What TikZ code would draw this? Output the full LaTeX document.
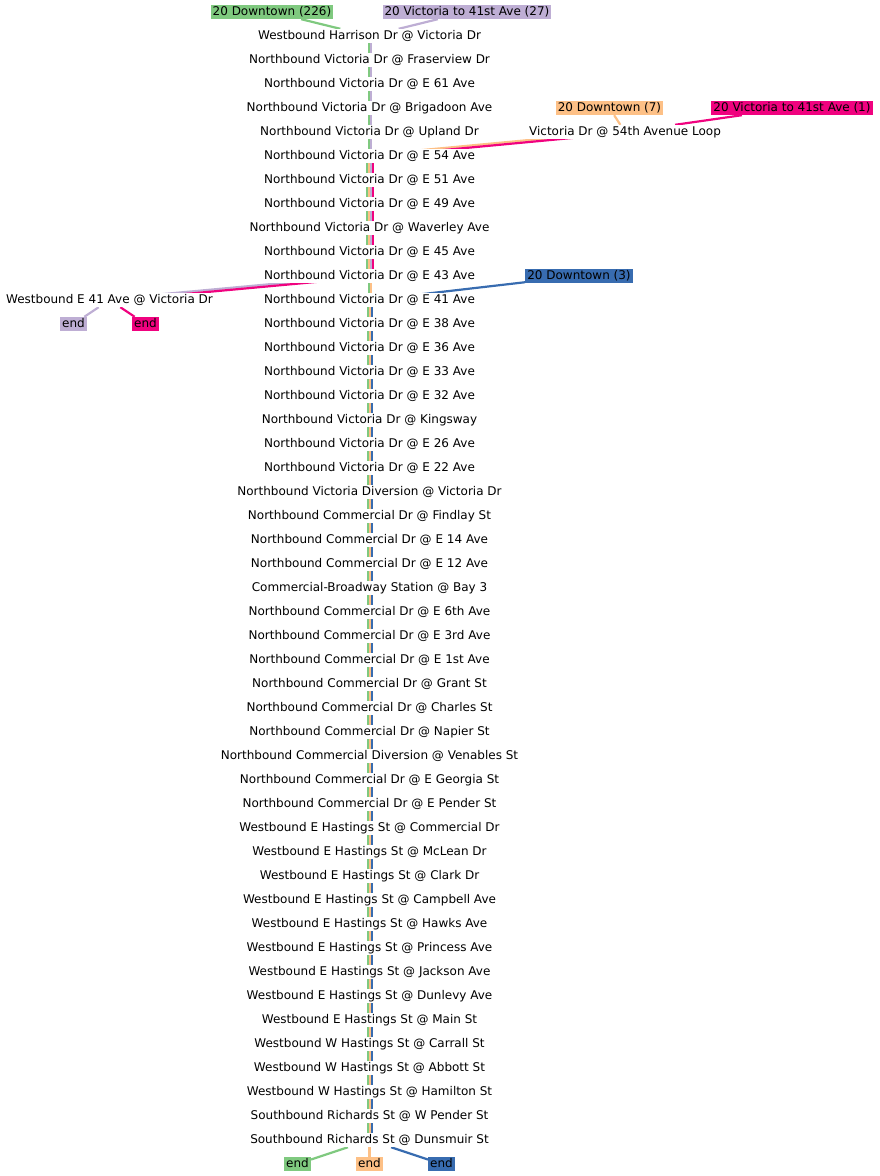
\documentclass[tikz,border=0pt]{standalone}
\usepackage{fontspec}
\setmainfont{DejaVu Sans}
\usetikzlibrary{backgrounds}
\definecolor{rgreen}{RGB}{127,201,127}
\definecolor{rpurple}{RGB}{190,174,212}
\definecolor{rorange}{RGB}{253,192,134}
\definecolor{rmagenta}{RGB}{240,2,127}
\definecolor{rblue}{RGB}{56,108,176}

\begin{document}
\begin{tikzpicture}[
  x=1pt, y=-1pt,
  font=\fontsize{12pt}{14pt}\selectfont,
  stop/.style={fill=white, inner xsep=1pt, inner ysep=1pt,
               text height=9pt, text depth=3pt},
  tag/.style={inner xsep=2pt, inner ysep=1pt,
              text height=9pt, text depth=3pt},
  bar/.style={line width=2pt},
  link/.style={line width=2.2pt},
]
\useasboundingbox (0,0) rectangle (879,1176);

% -------------------------------------------------------------------------
% Trunk: stops of route 20, top to bottom.
% -------------------------------------------------------------------------
\foreach \name [count=\i from 0] in {
  Westbound Harrison Dr @ Victoria Dr,
  Northbound Victoria Dr @ Fraserview Dr,
  Northbound Victoria Dr @ E 61 Ave,
  Northbound Victoria Dr @ Brigadoon Ave,
  Northbound Victoria Dr @ Upland Dr,
  Northbound Victoria Dr @ E 54 Ave,
  Northbound Victoria Dr @ E 51 Ave,
  Northbound Victoria Dr @ E 49 Ave,
  Northbound Victoria Dr @ Waverley Ave,
  Northbound Victoria Dr @ E 45 Ave,
  Northbound Victoria Dr @ E 43 Ave,
  Northbound Victoria Dr @ E 41 Ave,
  Northbound Victoria Dr @ E 38 Ave,
  Northbound Victoria Dr @ E 36 Ave,
  Northbound Victoria Dr @ E 33 Ave,
  Northbound Victoria Dr @ E 32 Ave,
  Northbound Victoria Dr @ Kingsway,
  Northbound Victoria Dr @ E 26 Ave,
  Northbound Victoria Dr @ E 22 Ave,
  Northbound Victoria Diversion @ Victoria Dr,
  Northbound Commercial Dr @ Findlay St,
  Northbound Commercial Dr @ E 14 Ave,
  Northbound Commercial Dr @ E 12 Ave,
  Commercial-Broadway Station @ Bay 3,
  Northbound Commercial Dr @ E 6th Ave,
  Northbound Commercial Dr @ E 3rd Ave,
  Northbound Commercial Dr @ E 1st Ave,
  Northbound Commercial Dr @ Grant St,
  Northbound Commercial Dr @ Charles St,
  Northbound Commercial Dr @ Napier St,
  Northbound Commercial Diversion @ Venables St,
  Northbound Commercial Dr @ E Georgia St,
  Northbound Commercial Dr @ E Pender St,
  Westbound E Hastings St @ Commercial Dr,
  Westbound E Hastings St @ McLean Dr,
  Westbound E Hastings St @ Clark Dr,
  Westbound E Hastings St @ Campbell Ave,
  Westbound E Hastings St @ Hawks Ave,
  Westbound E Hastings St @ Princess Ave,
  Westbound E Hastings St @ Jackson Ave,
  Westbound E Hastings St @ Dunlevy Ave,
  Westbound E Hastings St @ Main St,
  Westbound W Hastings St @ Carrall St,
  Westbound W Hastings St @ Abbott St,
  Westbound W Hastings St @ Hamilton St,
  Southbound Richards St @ W Pender St,
  Southbound Richards St @ Dunsmuir St}
  \node[stop] (s\i) at (369.5,{36+24*\i}) {\name};

% -------------------------------------------------------------------------
% Branch stops, route tags and ends.
% -------------------------------------------------------------------------
\node[stop] (loop) at (625,132) {Victoria Dr @ 54th Avenue Loop};
\node[stop] (wb41) at (109.5,300) {Westbound E 41 Ave @ Victoria Dr};

\node[tag, fill=rgreen] (dt226) at (272,12) {20 Downtown (226)};
\node[tag, fill=rpurple] (vic27) at (467,12) {20 Victoria to 41st Ave (27)};
\node[tag, fill=rorange] (dt7) at (609.5,108) {20 Downtown (7)};
\node[tag, fill=rmagenta] (vic1) at (792,108) {20 Victoria to 41st Ave (1)};
\node[tag, fill=rblue] (dt3) at (579,276) {20 Downtown (3)};

\node[tag, fill=rpurple] (endvic27) at (73.5,324) {end};
\node[tag, fill=rmagenta] (endvic1) at (145.5,324) {end};
\node[tag, fill=rgreen] (enddt226) at (297.5,1164) {end};
\node[tag, fill=rorange] (enddt7) at (369.5,1164) {end};
\node[tag, fill=rblue] (enddt3) at (441.5,1164) {end};

% -------------------------------------------------------------------------
% Route lines, behind the stop labels.
% -------------------------------------------------------------------------
\begin{scope}[on background layer]
  \foreach \i in {0,...,4}
    \foreach \c/\o in {rgreen/-1, rpurple/1}
      {\pgfmathtruncatemacro{\j}{\i+1}
       \draw[bar, \c] ([xshift=\o pt]s\i.center) -- ([xshift=\o pt]s\j.center);}
  \foreach \i in {5,...,9}
    \foreach \c/\o in {rgreen/-3, rorange/-1, rpurple/1, rmagenta/3}
      {\pgfmathtruncatemacro{\j}{\i+1}
       \draw[bar, \c] ([xshift=\o pt]s\i.center) -- ([xshift=\o pt]s\j.center);}
  \foreach \c/\o in {rgreen/-1, rorange/1}
    \draw[bar, \c] ([xshift=\o pt]s10.center) -- ([xshift=\o pt]s11.center);
  \foreach \i in {11,...,45}
    \foreach \c/\o in {rgreen/-2, rorange/0, rblue/2}
      {\pgfmathtruncatemacro{\j}{\i+1}
       \draw[bar, \c] ([xshift=\o pt]s\i.center) -- ([xshift=\o pt]s\j.center);}

  \draw[link, rgreen] (dt226) -- (s0);
  \draw[link, rpurple] (vic27) -- (s0);
  \draw[link, rorange] (dt7) -- (loop);
  \draw[link, rmagenta] (vic1) -- (loop);
  \draw[link, rorange] ([yshift=1pt]loop.center) -- ([yshift=1pt]s5.center);
  \draw[link, rmagenta] ([yshift=-1pt]loop.center) -- ([yshift=-1pt]s5.center);
  \draw[link, rblue] (dt3) -- ([xshift=2pt]s11.center);
  \draw[link, rpurple] ([yshift=1pt]s10.center) -- ([yshift=1pt]wb41.center);
  \draw[link, rmagenta] ([yshift=-1pt]s10.center) -- ([yshift=-1pt]wb41.center);
  \draw[link, rpurple] (wb41) -- (endvic27);
  \draw[link, rmagenta] (wb41) -- (endvic1);
  \draw[link, rgreen] (s46) -- (enddt226);
  \draw[link, rorange] (s46) -- (enddt7);
  \draw[link, rblue] (s46) -- (enddt3);
\end{scope}

\end{tikzpicture}
\end{document}
